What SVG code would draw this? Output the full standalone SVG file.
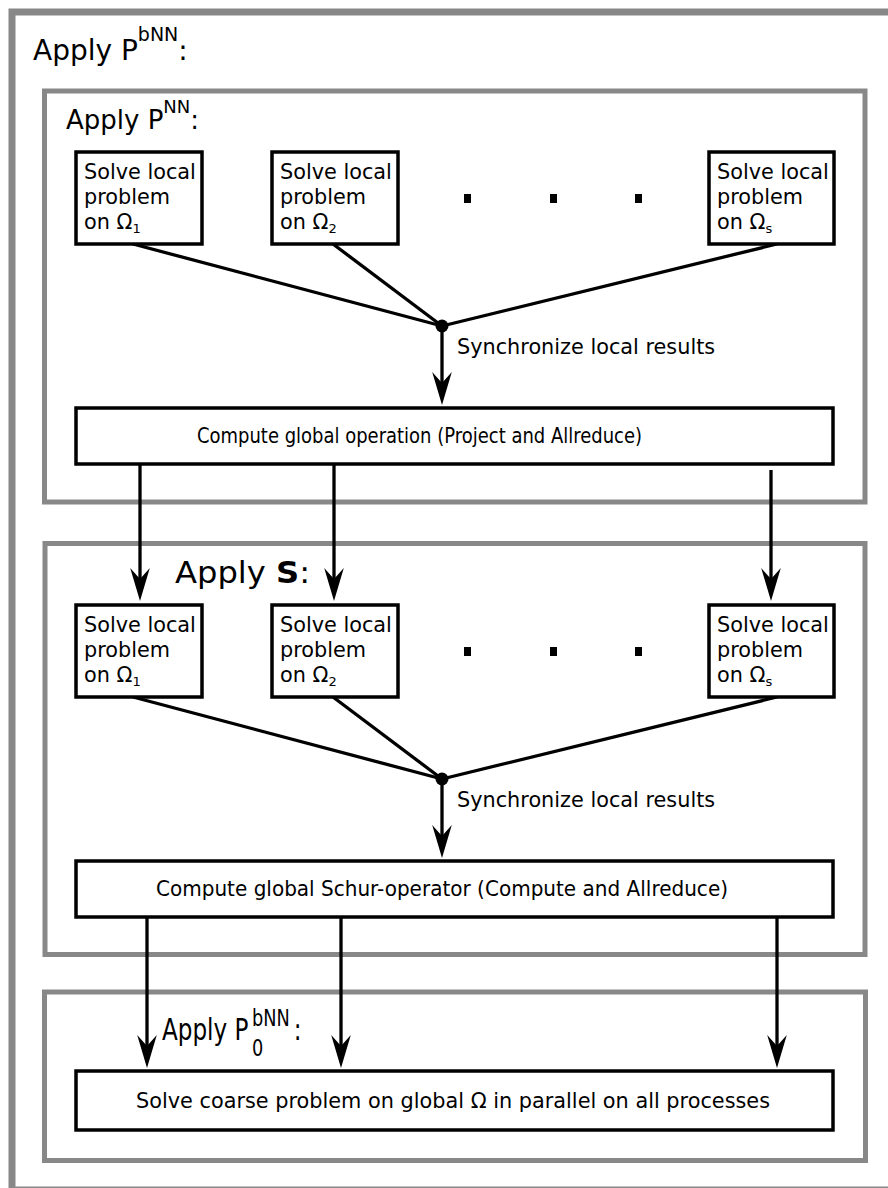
<svg xmlns="http://www.w3.org/2000/svg" width="888" height="1188" viewBox="0 0 888 1188">
<style>
.frame{fill:none;stroke:#888;stroke-width:5}
.outer{fill:none;stroke:#888;stroke-width:7}
.box{fill:#fff;stroke:#000;stroke-width:3.5}
.t{font-family:"DejaVu Sans",sans-serif;fill:#000}
.bt{font-family:"DejaVu Sans",sans-serif;font-size:20.8px;fill:#000}
.sub{font-size:13px}
.lt{font-family:"DejaVu Sans",sans-serif;font-size:21px;fill:#000}
.con{stroke:#000;stroke-width:3.3;fill:none}
.dot{fill:#000}
</style>
<defs>
<marker id="ah" markerUnits="userSpaceOnUse" viewBox="-23 -11 37 22" markerWidth="37" markerHeight="22" refX="0" refY="0" orient="auto">
<path d="M12,0 L-21,-9.8 L-10,0 L-21,9.8 Z" fill="#000"/>
</marker>
</defs>
<rect width="888" height="1188" fill="#fff"/>
<g id="outer">
<rect class="outer" x="12" y="12" width="900" height="1178"/>
<text class="t" x="33" y="60" font-size="28">Apply P<tspan font-size="19" dy="-19">bNN</tspan><tspan dy="19">:</tspan></text>
</g>
<g id="panel1">
<rect class="frame" x="44.5" y="91" width="820.5" height="411"/>
<text class="t" x="66" y="129" font-size="26">Apply P<tspan font-size="18" dy="-16">NN</tspan><tspan dy="16">:</tspan></text>
</g>
<g id="panel2">
<rect class="frame" x="45" y="543.5" width="820" height="411"/>
<text class="t" x="175" y="583" font-size="31" textLength="135" lengthAdjust="spacingAndGlyphs">Apply <tspan font-weight="bold">S</tspan>:</text>
</g>
<g id="panel3">
<rect class="frame" x="44.5" y="992" width="821" height="168.5"/>
<text class="t" transform="translate(162,1040) scale(0.77,1)" x="0" y="0" font-size="30">Apply P<tspan x="117" dy="-14" font-size="23">bNN</tspan><tspan x="117" dy="30" font-size="23">0</tspan><tspan x="171" dy="-16">:</tspan></text>
</g>
<g id="connectors">
<line class="con" x1="133" y1="244" x2="442" y2="326"/>
<line class="con" x1="333" y1="244" x2="442" y2="326"/>
<line class="con" x1="777" y1="244" x2="442" y2="326"/>
<line class="con" x1="442" y1="326" x2="442" y2="393" marker-end="url(#ah)"/>
<line class="con" x1="140" y1="465" x2="140" y2="589" marker-end="url(#ah)"/>
<line class="con" x1="334" y1="465" x2="334" y2="589" marker-end="url(#ah)"/>
<line class="con" x1="771" y1="470" x2="771" y2="589" marker-end="url(#ah)"/>
<line class="con" x1="133" y1="697" x2="442" y2="779"/>
<line class="con" x1="333" y1="697" x2="442" y2="779"/>
<line class="con" x1="777" y1="697" x2="442" y2="779"/>
<line class="con" x1="442" y1="779" x2="442" y2="846" marker-end="url(#ah)"/>
<line class="con" x1="147" y1="917" x2="147" y2="1056" marker-end="url(#ah)"/>
<line class="con" x1="341" y1="917" x2="341" y2="1056" marker-end="url(#ah)"/>
<line class="con" x1="777" y1="917" x2="777" y2="1056" marker-end="url(#ah)"/>
<circle class="dot" cx="442" cy="326" r="6.5"/>
<circle class="dot" cx="442" cy="779" r="6.5"/>
<text class="bt" x="457" y="354" font-size="19">Synchronize local results</text>
<text class="bt" x="457" y="807" font-size="19">Synchronize local results</text>
</g>
<g id="p1-box1">
<rect class="box" x="76" y="152" width="126" height="92"/>
<text class="bt" x="84" y="179">Solve local</text><text class="bt" x="84" y="204">problem</text><text class="bt" x="84" y="229">on Ω<tspan class="sub" dy="4">1</tspan></text>
</g>
<g id="p1-box2">
<rect class="box" x="272" y="152" width="126" height="92"/>
<text class="bt" x="280" y="179">Solve local</text><text class="bt" x="280" y="204">problem</text><text class="bt" x="280" y="229">on Ω<tspan class="sub" dy="4">2</tspan></text>
</g>
<g id="p1-dots">
<rect class="dot" x="464" y="194" width="7" height="9"/>
<rect class="dot" x="550" y="194" width="7" height="9"/>
<rect class="dot" x="635" y="194" width="7" height="9"/>
</g>
<g id="p1-boxs">
<rect class="box" x="709" y="152" width="125" height="92"/>
<text class="bt" x="717" y="179">Solve local</text><text class="bt" x="717" y="204">problem</text><text class="bt" x="717" y="229">on Ω<tspan class="sub" dy="4">s</tspan></text>
</g>
<g id="p1-global">
<rect class="box" x="76" y="408" width="757" height="56"/>
<text class="lt" x="197" y="443" textLength="445" lengthAdjust="spacingAndGlyphs">Compute global operation (Project and Allreduce)</text>
</g>
<g id="p2-box1">
<rect class="box" x="76" y="605" width="126" height="92"/>
<text class="bt" x="84" y="632">Solve local</text><text class="bt" x="84" y="657">problem</text><text class="bt" x="84" y="682">on Ω<tspan class="sub" dy="4">1</tspan></text>
</g>
<g id="p2-box2">
<rect class="box" x="272" y="605" width="126" height="92"/>
<text class="bt" x="280" y="632">Solve local</text><text class="bt" x="280" y="657">problem</text><text class="bt" x="280" y="682">on Ω<tspan class="sub" dy="4">2</tspan></text>
</g>
<g id="p2-dots">
<rect class="dot" x="464" y="647" width="7" height="9"/>
<rect class="dot" x="550" y="647" width="7" height="9"/>
<rect class="dot" x="635" y="647" width="7" height="9"/>
</g>
<g id="p2-boxs">
<rect class="box" x="709" y="605" width="125" height="92"/>
<text class="bt" x="717" y="632">Solve local</text><text class="bt" x="717" y="657">problem</text><text class="bt" x="717" y="682">on Ω<tspan class="sub" dy="4">s</tspan></text>
</g>
<g id="p2-global">
<rect class="box" x="76" y="861" width="757" height="56"/>
<text class="lt" x="156" y="896" textLength="572" lengthAdjust="spacingAndGlyphs">Compute global Schur-operator (Compute and Allreduce)</text>
</g>
<g id="p3-coarse">
<rect class="box" x="76" y="1071" width="757" height="59"/>
<text class="lt" x="136" y="1108" textLength="634" lengthAdjust="spacingAndGlyphs">Solve coarse problem on global Ω in parallel on all processes</text>
</g>
</svg>
